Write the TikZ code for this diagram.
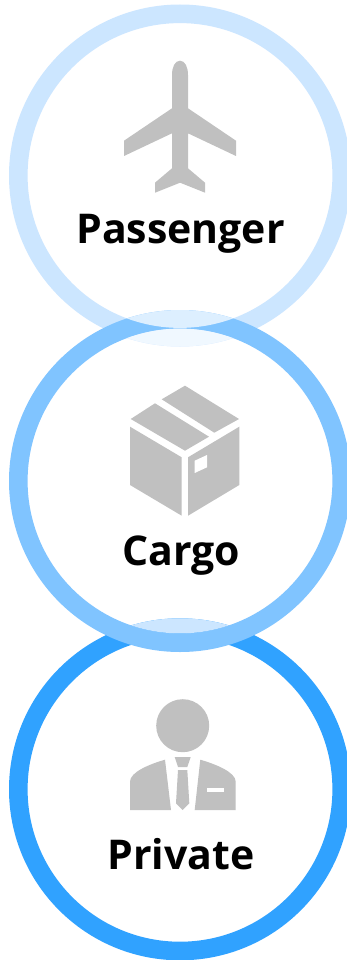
\documentclass[tikz,border=0pt]{standalone}
\usepackage{fontspec}
\setmainfont{Open Sans}
\definecolor{ringA}{HTML}{CCE6FF}
\definecolor{ringB}{HTML}{80C4FF}
\definecolor{ringC}{HTML}{30A2FF}
\definecolor{paleAB}{HTML}{DDEFFF}
\definecolor{paleBA}{HTML}{F0F8FF}
\definecolor{icongray}{HTML}{C0C0C0}
\tikzset{
  icon/.style={fill=icongray,draw=none},
  hole/.style={fill=white,draw=none},
  label/.style={font=\fontsize{41}{41}\selectfont\bfseries,anchor=base,text=black,inner sep=0pt},
}
\newcommand{\annulus}[1]{(180,#1) circle[radius=171] (180,#1) circle[radius=152.4]}
\begin{document}
\begin{tikzpicture}[x=1pt,y=-1pt]
\useasboundingbox (0,0) rectangle (347,960);
\fill[white] (0,0) rectangle (347,960);
\begin{scope}
\clip (0,0) rectangle (347,960);
\fill[ringA,even odd rule] \annulus{175.5};
\fill[ringC,even odd rule] \annulus{789.3};
\fill[ringB,even odd rule] \annulus{481};
\begin{scope}
  \clip (180,481) circle[radius=152.4];
  \fill[paleBA,even odd rule] \annulus{175.5};
  \fill[ringA,even odd rule] \annulus{789.3};
\end{scope}
\begin{scope}
  \clip (180,175.5) circle[radius=152.4];
  \fill[paleAB,even odd rule] \annulus{481};
\end{scope}
\end{scope}
% plane
\fill[icon] (180,60.7) .. controls (175,60.7) and (172,67) .. (172,75) -- (172,108.3) -- (124,140.7) -- (124,156) -- (172,133.3)
  -- (172,168.3) -- (155,182.7) -- (155,192.7) -- (180,182.7) -- (205,192.7) -- (205,182.7) -- (188,168.3)
  -- (188,133.3) -- (236,156) -- (236,140.7) -- (188,108.3) -- (188,75) .. controls (188,67) and (185,60.7) .. (180,60.7) -- cycle;
% box
\fill[icon] (185,385.7) -- (239,419) -- (214.3,432.7) -- (161.7,399.3) -- cycle;
\fill[icon] (155,403.3) -- (209,436.7) -- (185,450.7) -- (130.7,419) -- cycle;
\fill[icon] (130,426.7) -- (181.7,457.3) -- (181.7,515.7) -- (130,485) -- cycle;
\fill[icon] (188,457.3) -- (239.3,426.7) -- (239.3,485) -- (188,515.7) -- cycle;
\fill[hole] (194.7,460.7) -- (207,455) -- (207,467.3) -- (194.7,473) -- cycle;
% person
\fill[icon] (182.7,725.7) circle[radius=26.5];
\fill[icon] (165,759.7) .. controls (150,764) and (130,772) .. (130,781.7) -- (130,810) -- (171,810) -- cycle;
\fill[icon] (200.3,759.7) .. controls (215,764) and (235.7,772) .. (235.7,781.7) -- (235.7,810) -- (194.7,810) -- cycle;
\fill[icon] (174.7,757) -- (190.7,757) -- (187.3,767) -- (178,767) -- cycle;
\fill[icon] (178,770) -- (187.3,770) -- (189.3,803.3) -- (182.7,810) -- (176,803.3) -- cycle;
\fill[hole] (207.3,788.3) rectangle (224,791.7);
% labels
\node[label] (passenger) at (180.5,243) {Passenger};
\node[label] (cargo) at (181,565) {Cargo};
\node[label] (private) at (181,869) {Private};
\end{tikzpicture}
\end{document}
